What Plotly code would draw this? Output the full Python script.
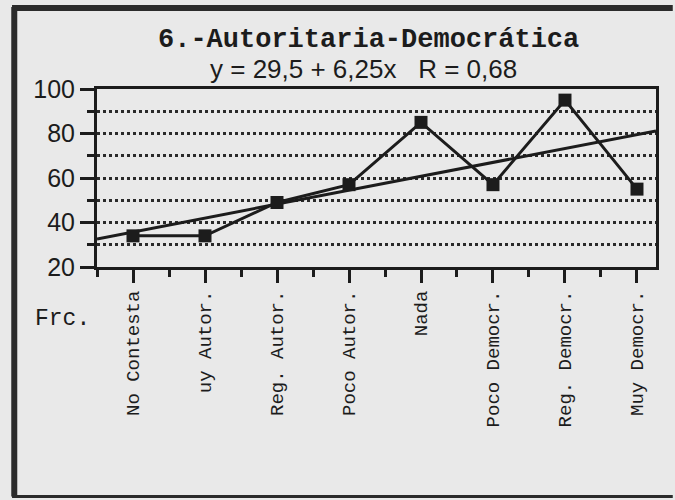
import plotly.graph_objects as go

# Frequency (%) per answer category
categories = ["No Contesta", "uy Autor.", "Reg. Autor.", "Poco Autor.", "Nada",
              "Poco Democr.", "Reg. Democr.", "Muy Democr."]
frc = [34, 34, 49, 57, 85, 57, 95, 55]

# Fitted line  y = a + b*x  (x counted 1..8)
fit_a = 29.5
fit_b = 6.25
fit_r = 0.68

y_ticks = [20, 40, 60, 80, 100]

ink = "#1c1c1c"
paper = "#e9e9e9"

x_idx = list(range(len(categories)))
x_lo, x_hi = -0.5, len(categories) - 1 + 0.264
fit_x = [x_lo, x_hi]
fit_y = [fit_a + fit_b * (x + 1) for x in fit_x]

fig = go.Figure()
fig.add_trace(go.Scatter(x=fit_x, y=fit_y, mode="lines",
                         line=dict(color=ink, width=3), hoverinfo="skip"))
fig.add_trace(go.Scatter(x=x_idx, y=frc, mode="lines+markers",
                         line=dict(color=ink, width=3),
                         marker=dict(symbol="square", size=13, color=ink)))

fig.update_layout(
    width=675, height=500,
    margin=dict(l=97, r=19, t=89, b=233),
    paper_bgcolor=paper, plot_bgcolor=paper,
    showlegend=False,
    font=dict(family="Liberation Sans", color=ink),
)

fig.update_xaxes(
    range=[x_lo, x_hi],
    tickmode="array", tickvals=x_idx, ticktext=categories,
    tickangle=-90,
    tickfont=dict(family="Liberation Mono", size=19, color=ink),
    ticks="outside", ticklen=13, tickwidth=2.5, tickcolor=ink,
    minor=dict(tickmode="linear", tick0=-0.5, dtick=1, ticks="outside",
               ticklen=7, tickwidth=2.5, tickcolor=ink),
    showgrid=False, zeroline=False,
    showline=True, linewidth=3, linecolor=ink, mirror=True,
)
fig.update_yaxes(
    range=[20, 100],
    tickmode="array", tickvals=y_ticks,
    tickfont=dict(family="Liberation Sans", size=25, color=ink),
    ticks="outside", ticklen=14, tickwidth=2.5, tickcolor=ink,
    showgrid=True, gridcolor="#2a2a2a", gridwidth=2.5, griddash="dot",
    minor=dict(tickmode="linear", tick0=30, dtick=20, ticks="outside",
               ticklen=7, tickwidth=2.5, tickcolor=ink,
               showgrid=True, gridcolor="#2a2a2a", gridwidth=2.5, griddash="dot"),
    zeroline=False,
    showline=True, linewidth=3, linecolor=ink, mirror=True,
)

fmt = lambda v: f"{v:g}".replace(".", ",")
fig.add_annotation(
    text="<b>6.-Autoritaria-Democrática</b>",
    xref="paper", yref="paper", x=0.485, y=1.275, yanchor="middle",
    showarrow=False, font=dict(family="Liberation Mono", size=27, color=ink),
)
fig.add_annotation(
    text=f"y = {fmt(fit_a)} + {fmt(fit_b)}x   R = {fmt(fit_r)}",
    xref="paper", yref="paper", x=0.476, y=1.115, yanchor="middle",
    showarrow=False, font=dict(family="Liberation Sans", size=26, color=ink),
)
fig.add_annotation(
    text="Frc.", xref="paper", yref="paper", x=-0.062, y=-0.29,
    xanchor="center", yanchor="middle", showarrow=False,
    font=dict(family="Liberation Mono", size=23, color=ink),
)

# frame around the whole figure (left, top and bottom edges)
frame = dict(type="line", xref="paper", yref="paper", line=dict(color="#2b2b2b"))
fig.add_shape(**frame, x0=-0.148, x1=-0.148, y0=-1.29, y1=1.46, line_width=6)
fig.add_shape(**frame, x0=-0.152, x1=1.03, y0=1.455, y1=1.455, line_width=6)
fig.add_shape(**frame, x0=-0.152, x1=1.03, y0=-1.29, y1=-1.29, line_width=3)

fig.write_html("out.html", config={"displayModeBar": False})
